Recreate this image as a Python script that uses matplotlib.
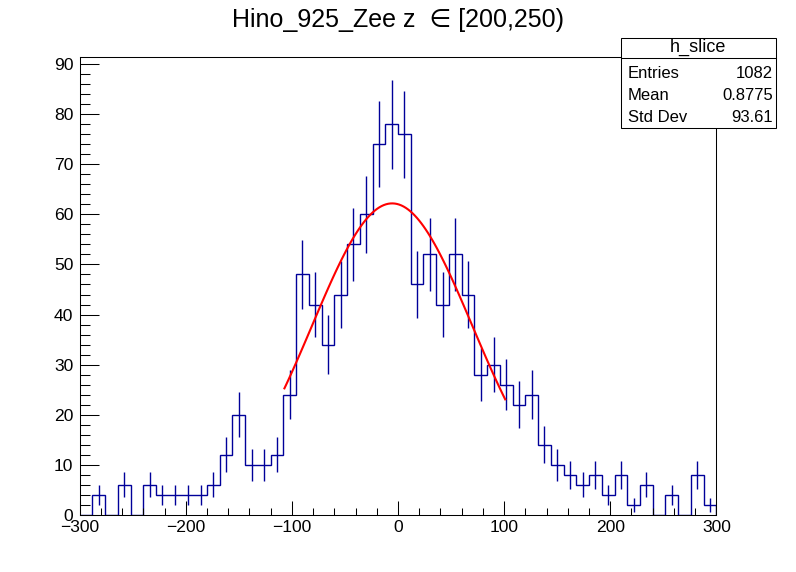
import numpy as np
import matplotlib
matplotlib.use("Agg")
import matplotlib.pyplot as plt
from matplotlib.patches import Rectangle
from matplotlib.ticker import MultipleLocator

plt.rcParams['font.family'] = ['Liberation Sans', 'DejaVu Sans']

# histogram h_slice: 50 bins from -300 to 300
bin_edges = np.linspace(-300, 300, 51)
counts = np.array([
    0, 4, 0, 6, 0, 6, 4, 4, 4, 4,
    6, 12, 20, 10, 10, 12, 24, 48, 42, 34,
    44, 54, 60, 74, 78, 76, 46, 52, 42, 52,
    44, 28, 30, 26, 22, 24, 14, 10, 8, 6,
    8, 4, 8, 2, 6, 0, 4, 0, 8, 2,
])

# gaussian fit
fit_const = 62.2
fit_mean = -5.5
fit_sigma = 75.6
fit_lo, fit_hi = -107, 101

title = "Hino_925_Zee z  \u2208 [200,250)"
stat_name = "h_slice"
stat_rows = [("Entries", "1082"), ("Mean", "0.8775"), ("Std Dev", "93.61")]

hcol = '#000099'

fig = plt.figure(figsize=(7.96, 5.72), dpi=100)
ax = fig.add_axes([0.1, 0.1, 0.8, 0.8])

centers = 0.5 * (bin_edges[:-1] + bin_edges[1:])
ax.stairs(counts, bin_edges, color=hcol, lw=1)
m = counts > 0
ax.errorbar(centers[m], counts[m], yerr=np.sqrt(counts[m]), fmt='none',
            ecolor=hcol, elinewidth=1)

xf = np.linspace(fit_lo, fit_hi, 101)
yf = fit_const * np.exp(-0.5 * ((xf - fit_mean) / fit_sigma) ** 2)
ax.plot(xf, yf, color='red', lw=1.5)

ax.set_xlim(-300, 300)
ax.set_ylim(0, 91.4)
ax.xaxis.set_major_locator(MultipleLocator(100))
ax.xaxis.set_minor_locator(MultipleLocator(20))
ax.yaxis.set_major_locator(MultipleLocator(10))
ax.yaxis.set_minor_locator(MultipleLocator(2))
ax.tick_params(axis='x', which='major', direction='in', length=9.9, width=0.75,
               labelsize=12.6, pad=3.5)
ax.tick_params(axis='x', which='minor', direction='in', length=4.9, width=0.75)
ax.tick_params(axis='y', which='major', direction='in', length=13.7, width=0.75,
               labelsize=12.6, pad=4.5)
ax.tick_params(axis='y', which='minor', direction='in', length=6.9, width=0.75)
for s in ax.spines.values():
    s.set_linewidth(0.75)

fig.text(0.5, 0.965, title, ha='center', va='center', fontsize=18)

# stats box
bx0, bx1 = 620.7 / 796, 776 / 796
by0, by1 = 1 - 128.3 / 572, 1 - 38.3 / 572
ysep = 1 - 58.3 / 572
fig.patches.append(Rectangle((bx0, by0), bx1 - bx0, by1 - by0,
                             transform=fig.transFigure, facecolor='white',
                             edgecolor='black', lw=0.75, zorder=5))
fig.add_artist(plt.Line2D([bx0, bx1], [ysep, ysep], transform=fig.transFigure,
                          color='black', lw=0.75, zorder=6))
fig.text((bx0 + bx1) / 2, 1 - 47.3 / 572, stat_name, ha='center', va='center',
         fontsize=13, zorder=7)
for i, (k, v) in enumerate(stat_rows):
    yy = 1 - (73.3 + 22.2 * i) / 572
    fig.text(628 / 796, yy, k, ha='left', va='center', fontsize=12, zorder=7)
    fig.text(773 / 796, yy, v, ha='right', va='center', fontsize=12, zorder=7)

fig.savefig("out.png", dpi=100)
